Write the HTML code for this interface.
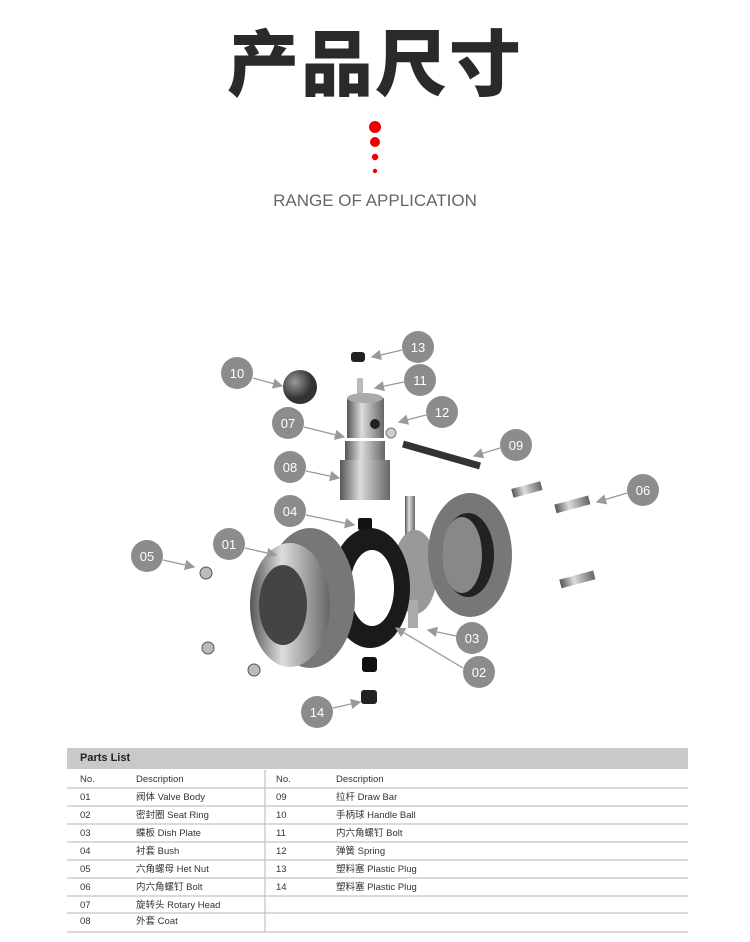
<!DOCTYPE html>
<html><head><meta charset="utf-8"><style>
body{margin:0;width:750px;height:942px;background:#fff;position:relative;overflow:hidden;font-family:"Liberation Sans","Noto Sans CJK SC",sans-serif}
.t{position:absolute;left:0;width:750px;text-align:center}
.pl{position:absolute;font-size:9.5px;line-height:12px;height:12px;color:#333;white-space:nowrap}
</style></head><body>
<div class="t" style="top:14px;font-size:72px;font-weight:900;color:#2a2a2a;letter-spacing:2px;font-family:'Noto Sans CJK SC',sans-serif;line-height:90px">产品尺寸</div>
<svg style="position:absolute;left:0;top:0" width="750" height="942">
<circle cx="375" cy="127" r="6" fill="#e00"/><circle cx="375" cy="142" r="5" fill="#e00"/><circle cx="375" cy="157" r="3.2" fill="#e00"/><circle cx="375" cy="171" r="2.2" fill="#e00"/>
<defs>
<linearGradient id="m" x1="0" x2="1"><stop offset="0" stop-color="#555"/><stop offset=".4" stop-color="#ddd"/><stop offset="1" stop-color="#666"/></linearGradient>
<radialGradient id="b" cx=".35" cy=".35"><stop offset="0" stop-color="#999"/><stop offset="1" stop-color="#333"/></radialGradient>
<marker id="a" markerWidth="8" markerHeight="8" refX="7" refY="4" orient="auto"><path d="M0,0L8,4L0,8z" fill="#999"/></marker>
</defs>
<rect x="351" y="352" width="14" height="10" rx="3" fill="#222"/>
<rect x="357" y="378" width="6" height="16" fill="#bbb"/>
<circle cx="300" cy="387" r="17" fill="url(#b)"/>
<rect x="347" y="398" width="37" height="40" fill="url(#m)"/><ellipse cx="365" cy="398" rx="18" ry="5" fill="#aaa"/><circle cx="375" cy="424" r="5" fill="#222"/>
<circle cx="391" cy="433" r="5" fill="#ccc" stroke="#777"/>
<line x1="403" y1="444" x2="480" y2="466" stroke="#333" stroke-width="7"/>
<rect x="345" y="441" width="40" height="20" fill="url(#m)"/><rect x="340" y="460" width="50" height="40" fill="url(#m)"/>
<rect x="358" y="518" width="14" height="12" rx="2" fill="#111"/>
<rect x="405" y="496" width="10" height="60" fill="url(#m)"/>
<ellipse cx="415" cy="572" rx="22" ry="42" fill="#999"/><rect x="408" y="600" width="10" height="28" fill="#aaa"/>
<ellipse cx="470" cy="555" rx="42" ry="62" fill="#777"/><ellipse cx="468" cy="555" rx="26" ry="42" fill="#222"/><ellipse cx="462" cy="555" rx="20" ry="38" fill="#888"/>
<ellipse cx="370" cy="588" rx="40" ry="60" fill="#1a1a1a"/><ellipse cx="372" cy="588" rx="22" ry="38" fill="#fff"/>
<ellipse cx="310" cy="598" rx="45" ry="70" fill="#777"/><ellipse cx="290" cy="605" rx="40" ry="62" fill="url(#m)"/><ellipse cx="283" cy="605" rx="24" ry="40" fill="#444"/>
<rect x="512" y="485" width="30" height="9" fill="url(#m)" transform="rotate(-15 527 490)"/>
<rect x="555" y="500" width="35" height="9" fill="url(#m)" transform="rotate(-15 572 505)"/>
<rect x="560" y="575" width="35" height="9" fill="url(#m)" transform="rotate(-15 577 580)"/>
<circle cx="206" cy="573" r="6" fill="#bbb" stroke="#555"/><circle cx="208" cy="648" r="6" fill="#bbb" stroke="#555"/><circle cx="254" cy="670" r="6" fill="#bbb" stroke="#555"/>
<rect x="362" y="657" width="15" height="15" rx="3" fill="#111"/><rect x="361" y="690" width="16" height="14" rx="3" fill="#222"/>
<g stroke="#999" stroke-width="1.3" marker-end="url(#a)" fill="none">
<line x1="402" y1="350" x2="372" y2="357"/><line x1="253" y1="378" x2="282" y2="386"/><line x1="404" y1="382" x2="375" y2="388"/>
<line x1="304" y1="427" x2="344" y2="437"/><line x1="426" y1="415" x2="399" y2="422"/><line x1="500" y1="448" x2="474" y2="456"/>
<line x1="306" y1="471" x2="339" y2="478"/><line x1="627" y1="493" x2="597" y2="502"/><line x1="306" y1="515" x2="354" y2="525"/>
<line x1="245" y1="548" x2="276" y2="555"/><line x1="163" y1="560" x2="194" y2="567"/><line x1="456" y1="636" x2="428" y2="630"/>
<line x1="463" y1="668" x2="396" y2="628"/><line x1="333" y1="708" x2="360" y2="702"/>
</g>
<g fill="#8c8c8c"><circle cx="418" cy="347" r="16"/><circle cx="237" cy="373" r="16"/><circle cx="420" cy="380" r="16"/><circle cx="288" cy="423" r="16"/><circle cx="442" cy="412" r="16"/><circle cx="516" cy="445" r="16"/><circle cx="290" cy="467" r="16"/><circle cx="643" cy="490" r="16"/><circle cx="290" cy="511" r="16"/><circle cx="229" cy="544" r="16"/><circle cx="147" cy="556" r="16"/><circle cx="472" cy="638" r="16"/><circle cx="479" cy="672" r="16"/><circle cx="317" cy="712" r="16"/></g>
<g fill="#fff" font-size="13" text-anchor="middle" font-family="Liberation Sans,sans-serif">
<text x="418" y="352">13</text><text x="237" y="378">10</text><text x="420" y="385">11</text><text x="288" y="428">07</text><text x="442" y="417">12</text><text x="516" y="450">09</text><text x="290" y="472">08</text><text x="643" y="495">06</text><text x="290" y="516">04</text><text x="229" y="549">01</text><text x="147" y="561">05</text><text x="472" y="643">03</text><text x="479" y="677">02</text><text x="317" y="717">14</text></g>
<rect x="67" y="748" width="621" height="21" fill="#c9c9c9"/>
<g stroke="#b5b5b5" stroke-width="1"><line x1="67" y1="788" x2="688" y2="788"/><line x1="67" y1="806" x2="688" y2="806"/><line x1="67" y1="824" x2="688" y2="824"/><line x1="67" y1="842" x2="688" y2="842"/><line x1="67" y1="860" x2="688" y2="860"/><line x1="67" y1="878" x2="688" y2="878"/><line x1="67" y1="896" x2="688" y2="896"/><line x1="67" y1="913" x2="688" y2="913"/><line x1="67" y1="932" x2="688" y2="932"/><line x1="265" y1="770" x2="265" y2="932"/></g>
</svg>
<div class="pl" style="left:80px;top:752px;font-size:11px;font-weight:bold;color:#222">Parts List</div>
<div class="pl" style="left:80px;top:774px">No.</div><div class="pl" style="left:136px;top:774px">Description</div>
<div class="pl" style="left:276px;top:774px">No.</div><div class="pl" style="left:336px;top:774px">Description</div>
<div class="pl" style="left:80px;top:792px">01</div><div class="pl" style="left:136px;top:792px">阀体 Valve Body</div>
<div class="pl" style="left:80px;top:810px">02</div><div class="pl" style="left:136px;top:810px">密封圈 Seat Ring</div>
<div class="pl" style="left:80px;top:828px">03</div><div class="pl" style="left:136px;top:828px">蝶板 Dish Plate</div>
<div class="pl" style="left:80px;top:846px">04</div><div class="pl" style="left:136px;top:846px">衬套 Bush</div>
<div class="pl" style="left:80px;top:864px">05</div><div class="pl" style="left:136px;top:864px">六角螺母 Het Nut</div>
<div class="pl" style="left:80px;top:882px">06</div><div class="pl" style="left:136px;top:882px">内六角螺钉 Bolt</div>
<div class="pl" style="left:80px;top:900px">07</div><div class="pl" style="left:136px;top:900px">旋转头 Rotary Head</div>
<div class="pl" style="left:80px;top:916px">08</div><div class="pl" style="left:136px;top:916px">外套 Coat</div>
<div class="pl" style="left:276px;top:792px">09</div><div class="pl" style="left:336px;top:792px">拉杆 Draw Bar</div>
<div class="pl" style="left:276px;top:810px">10</div><div class="pl" style="left:336px;top:810px">手柄球 Handle Ball</div>
<div class="pl" style="left:276px;top:828px">11</div><div class="pl" style="left:336px;top:828px">内六角螺钉 Bolt</div>
<div class="pl" style="left:276px;top:846px">12</div><div class="pl" style="left:336px;top:846px">弹簧 Spring</div>
<div class="pl" style="left:276px;top:864px">13</div><div class="pl" style="left:336px;top:864px">塑料塞 Plastic Plug</div>
<div class="pl" style="left:276px;top:882px">14</div><div class="pl" style="left:336px;top:882px">塑料塞 Plastic Plug</div>
<div class="t" style="top:191px;font-size:17px;color:#666">RANGE OF APPLICATION</div>
</body></html>
